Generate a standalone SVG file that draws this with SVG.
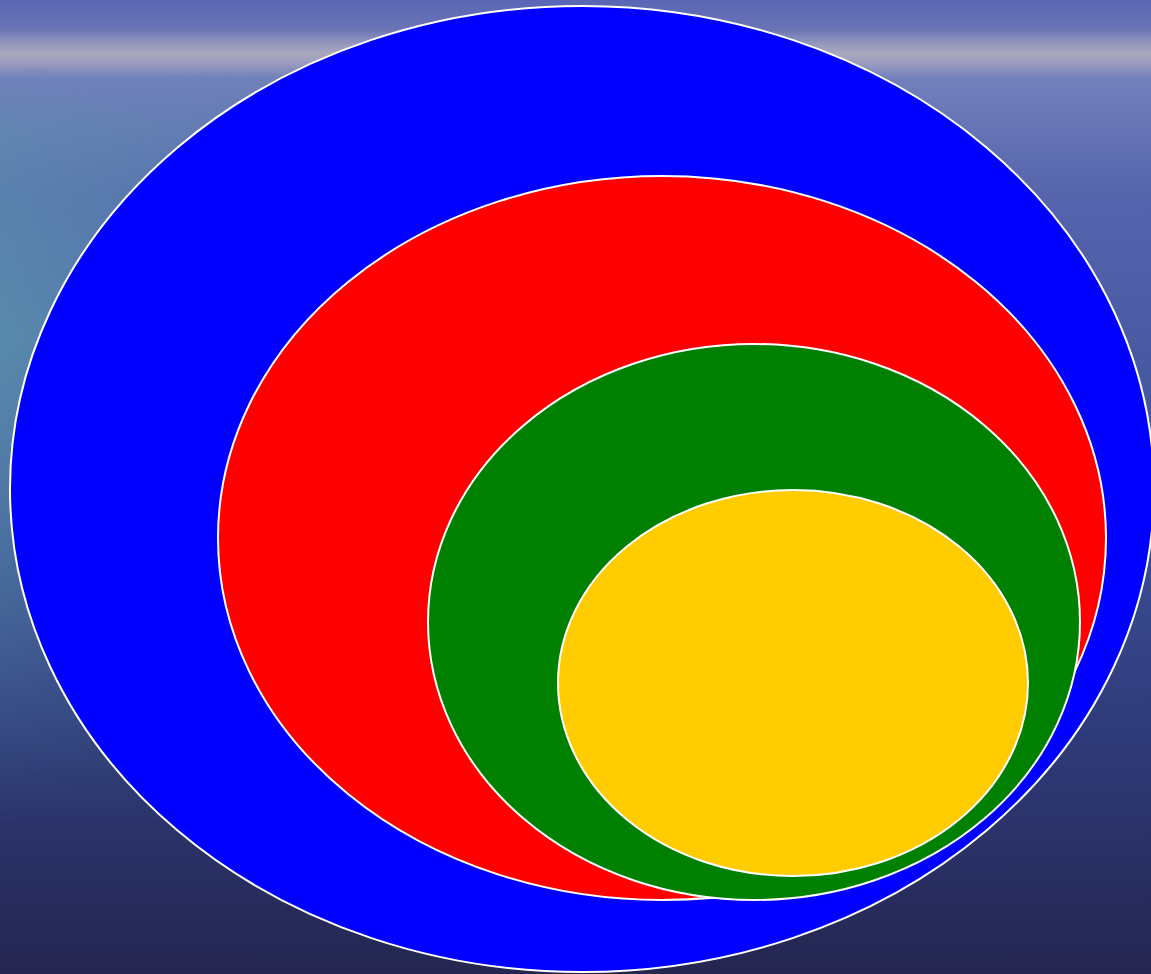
<svg xmlns="http://www.w3.org/2000/svg" width="1151" height="974" viewBox="0 0 1151 974">
<defs>
<linearGradient id="bgv" x1="0" y1="0" x2="0" y2="974" gradientUnits="userSpaceOnUse">
<stop offset="0" stop-color="#5966b4"/>
<stop offset="0.03" stop-color="#6a74b6"/>
<stop offset="0.045" stop-color="#9498bc"/>
<stop offset="0.055" stop-color="#aaa8be"/>
<stop offset="0.065" stop-color="#9a9cbf"/>
<stop offset="0.08" stop-color="#7280bc"/>
<stop offset="0.2" stop-color="#5564ac"/>
<stop offset="0.5" stop-color="#3f529c"/>
<stop offset="0.75" stop-color="#2f3b7a"/>
<stop offset="1" stop-color="#242650"/>
</linearGradient>
<linearGradient id="teal" x1="0" y1="0" x2="420" y2="0" gradientUnits="userSpaceOnUse">
<stop offset="0" stop-color="#5f9fb0" stop-opacity="0.7"/>
<stop offset="1" stop-color="#5f9fb0" stop-opacity="0"/>
</linearGradient>
<linearGradient id="tealmask" x1="0" y1="0" x2="0" y2="974" gradientUnits="userSpaceOnUse">
<stop offset="0.07" stop-color="#fff" stop-opacity="0"/>
<stop offset="0.13" stop-color="#fff" stop-opacity="0.6"/>
<stop offset="0.35" stop-color="#fff" stop-opacity="1"/>
<stop offset="0.62" stop-color="#fff" stop-opacity="0.5"/>
<stop offset="0.85" stop-color="#fff" stop-opacity="0"/>
</linearGradient>
<mask id="tm"><rect width="1151" height="974" fill="url(#tealmask)"/></mask>
</defs>
<style>
.ring{stroke:#ffffff;stroke-width:2}
</style>
<g id="background">
<rect width="1151" height="974" fill="url(#bgv)"/>
<rect width="1151" height="974" fill="url(#teal)" mask="url(#tm)"/>
</g>
<g id="blue"><ellipse class="ring" cx="582" cy="489" rx="572" ry="483" fill="#0000ff"/></g>
<g id="red"><ellipse class="ring" cx="662" cy="538" rx="444" ry="362" fill="#ff0000"/></g>
<g id="green"><ellipse class="ring" cx="754" cy="622" rx="326" ry="278" fill="#008000"/></g>
<g id="yellow"><ellipse class="ring" cx="793" cy="683" rx="235" ry="193" fill="#ffcc00"/></g>
<g id="connectors"/>
</svg>
